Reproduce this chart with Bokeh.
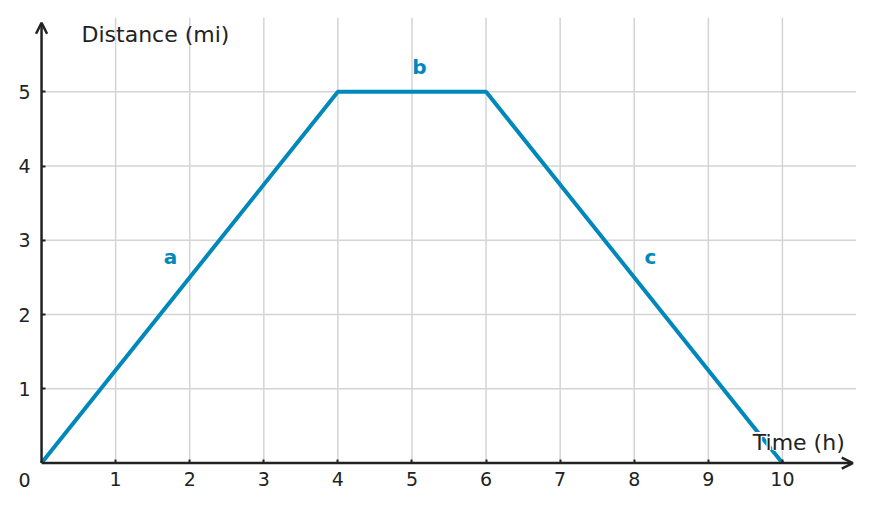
from bokeh.plotting import figure
from bokeh.models import Range1d, FixedTicker, Arrow, OpenHead
from bokeh.core.properties import value
from bokeh.embed import file_html
from bokeh.resources import INLINE

# data
times = [0, 4, 6, 10]
distances = [0, 5, 5, 0]
x_ticks = [1, 2, 3, 4, 5, 6, 7, 8, 9, 10]
y_ticks = [1, 2, 3, 4, 5]
x_max = 11
y_max = 6
seg_labels = ["a", "b", "c"]
seg_x = [1.74, 5.1, 8.22]
seg_y = [2.78, 5.34, 2.78]

BLUE = "#0088bb"
DARK = "#222222"
GRID = "#d4d4d4"
FONT = "DejaVu Sans"

p = figure(frame_width=852, frame_height=479, output_backend="svg", toolbar_location=None,
           x_range=Range1d(-0.5, x_max), y_range=Range1d(-0.45, y_max),
           min_border_left=4, min_border_right=0, min_border_top=17, min_border_bottom=0)
p.outline_line_color = None
p.background_fill_color = "white"
p.grid.visible = False

# gridlines
p.segment(x0=x_ticks, y0=[0] * len(x_ticks), x1=x_ticks, y1=[y_max] * len(x_ticks),
          line_color=GRID, line_width=1.5)
p.segment(x0=[0] * len(y_ticks), y0=y_ticks, x1=[x_max] * len(y_ticks), y1=y_ticks,
          line_color=GRID, line_width=1.5)

for ax, ticks in ((p.xaxis, x_ticks), (p.yaxis, y_ticks)):
    ax.fixed_location = 0
    ax.ticker = FixedTicker(ticks=ticks)
    ax.axis_line_color = None
    ax.major_tick_line_color = DARK
    ax.major_tick_line_width = 2
    ax.major_tick_in = 4
    ax.major_tick_out = 0
    ax.minor_tick_line_color = None
    ax.major_label_text_font = FONT
    ax.major_label_text_font_size = "19px"
    ax.major_label_text_color = DARK
p.xaxis.major_label_standoff = 9
p.yaxis.major_label_standoff = 11

p.line(times, distances, line_color=BLUE, line_width=4)

# axes with arrows
p.add_layout(Arrow(x_start=0, y_start=0, x_end=0, y_end=5.93, line_color=DARK, line_width=2.5,
                   end=OpenHead(size=11, line_color=DARK, line_width=2.5)))
p.add_layout(Arrow(x_start=0, y_start=0, x_end=10.95, y_end=0, line_color=DARK, line_width=2.5,
                   end=OpenHead(size=11, line_color=DARK, line_width=2.5)))

p.text(x=seg_x, y=seg_y, text=seg_labels, text_color=BLUE, text_font=value(FONT),
       text_font_size="20px", text_font_style="bold", text_align="center", text_baseline="middle")

p.text(x=[0.54], y=[5.77], text=["Distance (mi)"], text_color=DARK, text_font=value(FONT),
       text_font_size="22px", text_align="left", text_baseline="middle")
# thin white halo, then the label on top
for dx, dy in ((-1.3, 0), (1.3, 0), (0, -1.3), (0, 1.3)):
    p.text(x=[9.6], y=[0.28], text=["Time (h)"], x_offset=dx, y_offset=dy, text_color="white",
           text_font=value(FONT), text_font_size="22px", text_align="left",
           text_baseline="middle")
p.text(x=[9.6], y=[0.28], text=["Time (h)"], text_color=DARK, text_font=value(FONT),
       text_font_size="22px", text_align="left", text_baseline="middle")

p.text(x=[0], y=[0], text=["0"], x_offset=-17, y_offset=17, text_color=DARK,
       text_font=value(FONT), text_font_size="19px", text_align="center",
       text_baseline="middle")

open("out.html", "w").write(file_html(p, INLINE))
